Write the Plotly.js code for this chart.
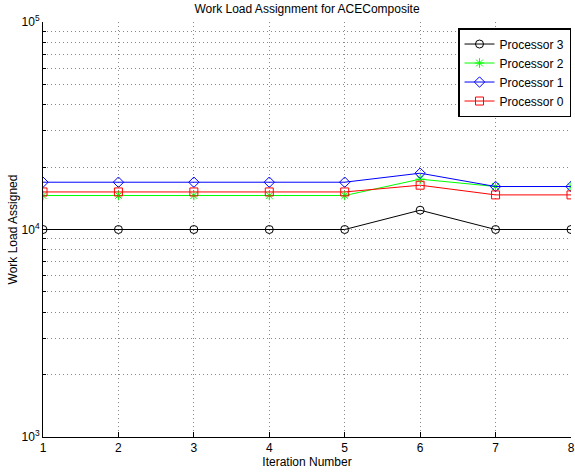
<!DOCTYPE html>
<html>
<head>
<meta charset="utf-8">
<script src="https://cdn.plot.ly/plotly-3.0.1.min.js"></script>
<style>html,body{margin:0;padding:0;background:#fff;}#chart{width:575px;height:473px;}</style>
</head>
<body>
<div id="chart"></div>
<script>
const iterations = [1, 2, 3, 4, 5, 6, 7, 8];
const processor3 = [10000, 10000, 10000, 10000, 10000, 12390, 10000, 10000];
const processor2 = [14580, 14580, 14580, 14580, 14580, 17480, 16110, 16110];
const processor1 = [16900, 16900, 16900, 16900, 16900, 18680, 16110, 16110];
const processor0 = [15170, 15170, 15170, 15170, 15170, 16350, 14680, 14680];
const yTickVals = [1000, 10000, 100000];
const yTickText = ['10<sup>3</sup>', '10<sup>4</sup>', '10<sup>5</sup>'];
const yMinorVals = [2000,3000,4000,5000,6000,7000,8000,9000,20000,30000,40000,50000,60000,70000,80000,90000];

const FONT = 'Liberation Sans, Arial, Helvetica, sans-serif';
function tr(name, y, color, symbol) {
  return {
    x: iterations, y: y, name: name, type: 'scatter', mode: 'lines+markers',
    line: {color: color, width: 1},
    marker: {symbol: symbol, size: 8, color: color, line: {color: color, width: 1}}
  };
}
const data = [
  tr('Processor 3', processor3, '#000000', 'circle-open'),
  tr('Processor 2', processor2, '#00ff00', 'asterisk-open'),
  tr('Processor 1', processor1, '#0000ff', 'diamond-open'),
  tr('Processor 0', processor0, '#ff0000', 'square-open')
];
const gridDash = '1px,3px';
const gridColor = '#888';
const layout = {
  width: 575, height: 473,
  margin: {l: 43, r: 4, t: 22, b: 36},
  paper_bgcolor: '#fff', plot_bgcolor: '#fff',
  font: {family: FONT, size: 12, color: '#000'},
  title: {text: 'Work Load Assignment for ACEComposite', font: {family: FONT, size: 12, color: '#000'},
          xref: 'paper', x: 0.5, xanchor: 'center', yref: 'container', y: 1 - 9/473, yanchor: 'middle'},
  xaxis: {
    range: [1, 8], tickmode: 'array', tickvals: iterations, ticktext: iterations.map(String),
    ticks: 'inside', ticklen: 5, tickcolor: '#000', tickwidth: 1,
    showline: true, linecolor: '#000', linewidth: 1, mirror: false, zeroline: false,
    showgrid: true, gridcolor: gridColor, griddash: gridDash, gridwidth: 1,
    tickfont: {family: FONT, size: 12, color: '#000'},
    title: {text: 'Iteration Number', font: {family: FONT, size: 12, color: '#000'}, standoff: 3}
  },
  yaxis: {
    type: 'log', range: [3, 5], tickmode: 'array', tickvals: yTickVals, ticktext: yTickText,
    ticks: 'inside', ticklen: 5, tickcolor: '#000', tickwidth: 1,
    showline: true, linecolor: '#000', linewidth: 1, mirror: false, zeroline: false,
    showgrid: true, gridcolor: gridColor, griddash: gridDash, gridwidth: 1,
    tickfont: {family: FONT, size: 12, color: '#000'},
    minor: {tickmode: 'array', tickvals: yMinorVals, ticks: 'inside', ticklen: 3, tickcolor: '#000',
            showgrid: true, gridcolor: gridColor, griddash: gridDash, gridwidth: 1},
    title: {text: 'Work Load Assigned', font: {family: FONT, size: 12, color: '#000'}, standoff: 1}
  },
  showlegend: true,
  legend: {x: 1.0, xanchor: 'right', y: 0.9855, yanchor: 'top', bgcolor: '#fff',
           bordercolor: '#000', borderwidth: 1.5, font: {family: FONT, size: 12, color: '#000'},
           tracegroupgap: 0, itemwidth: 30}
};
Plotly.newPlot('chart', data, layout, {displayModeBar: false, staticPlot: true});
</script>
</body>
</html>
